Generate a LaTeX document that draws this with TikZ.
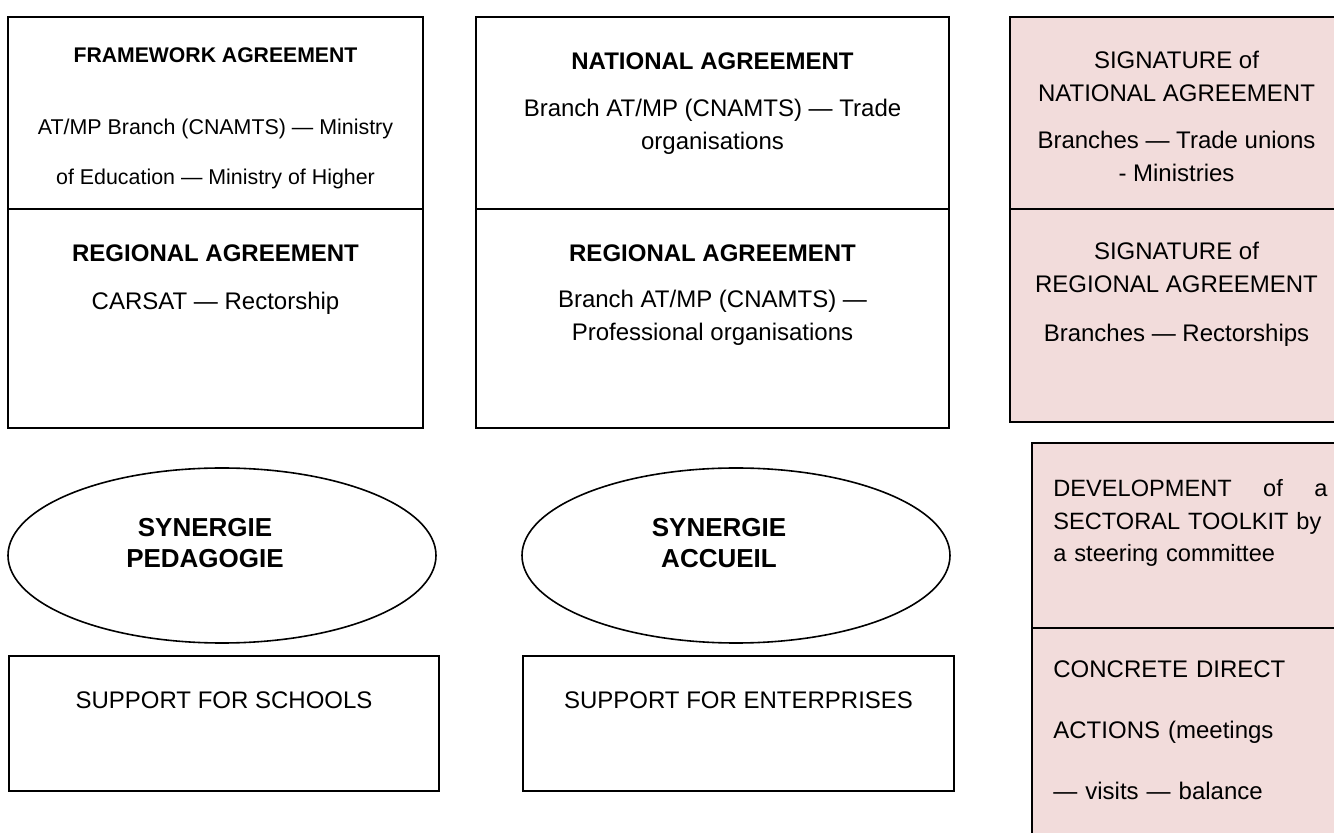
\documentclass[tikz,border=0pt]{standalone}
\usepackage{fontspec}
\setmainfont{Liberation Sans}
\usepackage{tikz}
\usetikzlibrary{calc,shapes}

\definecolor{sigpink}{RGB}{242,220,219}

\tikzset{
  box/.style={draw=black, line width=0.8pt},
  pinkbox/.style={box, fill=sigpink},
  txt/.style={font=\fontsize{12}{16.5}\selectfont, align=center, anchor=base, inner sep=0pt},
  head/.style={txt, font=\bfseries\fontsize{12}{16.5}\selectfont},
  blob/.style={txt, font=\bfseries\fontsize{13}{15.5}\selectfont},
  para/.style={txt, anchor=base west, align=left, text width=137pt},
}

\begin{document}
\begin{tikzpicture}[x=0.5pt,y=-0.5pt]
\useasboundingbox (0,0) rectangle (1334,833);
\clip (0,0) rectangle (1334,833);

% agreements, left column
\draw[box] (8,17) rectangle (423,209);
\draw[box] (8,209) rectangle (423,428);
\node[head, font=\bfseries\fontsize{10.6}{14}\selectfont] (fwhead) at (215.5,63) {FRAMEWORK AGREEMENT};
\node[txt, font=\fontsize{10.7}{25}\selectfont] (fwbody) at (215.5,185) {AT/MP Branch (CNAMTS) — Ministry\\of Education — Ministry of Higher};
\node[head] (reglhead) at (215.5,262) {REGIONAL AGREEMENT};
\node[txt] (reglbody) at (215.5,310) {CARSAT — Rectorship};

% agreements, middle column
\draw[box] (476,17) rectangle (949,209);
\draw[box] (476,209) rectangle (949,428);
\node[head] (nathead) at (712.5,70) {NATIONAL AGREEMENT};
\node[txt] (natbody) at (712.5,150) {Branch AT/MP (CNAMTS) — Trade\\organisations};
\node[head] (regmhead) at (712.5,262) {REGIONAL AGREEMENT};
\node[txt] (regmbody) at (712.5,341) {Branch AT/MP (CNAMTS) —\\Professional organisations};

% signatures
\draw[pinkbox] (1010,17) rectangle (1343,209);
\draw[pinkbox] (1010,209) rectangle (1343,422);
\node[txt] (signat) at (1176.5,102) {SIGNATURE of\\NATIONAL AGREEMENT};
\node[txt] (signatwho) at (1176.5,182) {Branches — Trade unions\\- Ministries};
\node[txt] (sigreg) at (1176.5,293) {SIGNATURE of\\REGIONAL AGREEMENT};
\node[txt] (sigregwho) at (1176.5,342) {Branches — Rectorships};

% toolkit and actions
\draw[pinkbox] (1032,443) rectangle (1343,628);
\draw[pinkbox] (1032,628) rectangle (1343,870);
\node[para, font=\fontsize{11.8}{16.2}\selectfont] (toolkit) at (1053,497)
  {DEVELOPMENT\hfill of\hfill a\\SECTORAL TOOLKIT by\\a steering committee};
\node[para, font=\fontsize{12}{30.5}\selectfont] (actions) at (1053,678)
  {CONCRETE DIRECT\\ACTIONS (meetings\\— visits — balance};

% synergies
\draw[box] (222,555.5) ellipse [x radius=107pt, y radius=43.75pt];
\node[blob] (synped) at (205,568) {SYNERGIE\\PEDAGOGIE};
\draw[box] (736,555.5) ellipse [x radius=107pt, y radius=43.75pt];
\node[blob] (synacc) at (719,568) {SYNERGIE\\ACCUEIL};

% support
\draw[box] (9,656) rectangle (439,791);
\node[txt] (schools) at (224,709) {SUPPORT FOR SCHOOLS};
\draw[box] (523,656) rectangle (954,791);
\node[txt] (firms) at (738.5,709) {SUPPORT FOR ENTERPRISES};

\end{tikzpicture}
\end{document}
